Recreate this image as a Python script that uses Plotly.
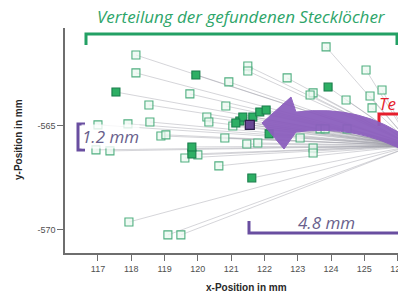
import plotly.graph_objects as go

# ---- data ----
open_x = [118.14, 118.14, 118.53, 118.56, 117.00, 117.90, 118.89, 119.04, 116.94, 117.36,
          119.61, 117.93, 119.10, 119.49, 119.76, 120.93, 121.50, 121.50, 122.68, 123.85,
          125.05, 123.46, 123.37, 124.45, 125.17, 125.53, 125.23, 120.84, 120.27, 120.33,
          121.05, 120.81, 121.47, 121.80, 123.07, 123.67, 123.82, 124.48, 123.46, 123.46,
          120.63, 120.00]
open_y = [-561.59, -562.45, -563.99, -564.81, -564.95, -564.90, -565.48, -565.43, -566.15, -566.20,
          -566.54, -569.62, -570.24, -570.24, -563.46, -562.88, -562.12, -562.36, -562.69, -561.20,
          -562.31, -563.41, -563.51, -563.75, -563.56, -563.27, -564.13, -564.04, -564.57, -564.81,
          -565.00, -565.58, -565.87, -565.82, -565.58, -565.14, -565.14, -565.14, -566.06, -566.30,
          -566.92, -566.39]
filled_x = [117.54, 119.94, 123.91, 122.14, 121.62, 119.82, 119.82, 121.26, 121.65, 121.86,
            122.05, 121.35, 121.14]
filled_y = [-563.37, -562.55, -563.13, -565.38, -567.50, -566.35, -566.01, -564.76, -564.57, -564.33,
            -564.23, -564.57, -564.86]
target_x = [121.56]
target_y = [-564.95]
ref_x = 126.45
ref_y = -565.95

x_ticks = [117, 118, 119, 120, 121, 122, 123, 124, 125, 126]
x_tick_labels = ["117", "118", "119", "120", "121", "122", "123", "124", "125", "126"]
y_ticks = [-565, -570]
y_tick_labels = ["-565", "-570"]

x_range = [116.01, 126.01]
y_range = [-571.11, -560.29]

# ---- figure ----
W, H = 398, 294
ML, MR, MT, MB = 65, 0, 28, 41
PW, PH = W - ML - MR, H - MT - MB


def paper(px, py):
    return (px - ML) / PW, (H - MB - py) / PH


def data(px, py):
    x = x_range[0] + (px - ML) / PW * (x_range[1] - x_range[0])
    y = y_range[1] - (py - MT) / PH * (y_range[1] - y_range[0])
    return x, y


all_x = open_x + filled_x + target_x
all_y = open_y + filled_y + target_y
lx, ly = [], []
for xv, yv in zip(all_x, all_y):
    lx += [xv, ref_x, None]
    ly += [yv, ref_y, None]

fig = go.Figure()
fig.add_trace(go.Scatter(x=lx, y=ly, mode="lines",
                         line=dict(color="rgba(150,150,160,0.4)", width=1),
                         hoverinfo="skip", showlegend=False))
fig.add_trace(go.Scatter(x=open_x, y=open_y, mode="markers",
                         marker=dict(symbol="square", size=8,
                                     color="rgba(235,248,240,0.75)",
                                     line=dict(color="rgb(80,175,128)", width=1.1)),
                         showlegend=False))
fig.add_trace(go.Scatter(x=filled_x, y=filled_y, mode="markers",
                         marker=dict(symbol="square", size=8,
                                     color="rgb(45,175,100)",
                                     line=dict(color="rgb(25,125,75)", width=1.1)),
                         showlegend=False))
fig.add_trace(go.Scatter(x=target_x, y=target_y, mode="markers",
                         marker=dict(symbol="square", size=9,
                                     color="rgb(105,72,150)",
                                     line=dict(color="rgb(45,30,75)", width=1.2)),
                         showlegend=False))


def path_px(points, conv, closed=False):
    s = ""
    for i, (px, py) in enumerate(points):
        x, y = conv(px, py)
        s += ("M" if i == 0 else "L") + f"{x:.5f},{y:.5f} "
    return s + ("Z" if closed else "")


shapes = []
# green bracket
shapes.append(dict(type="path", xref="paper", yref="paper",
                   path=path_px([(86, 45), (86, 34), (397, 34), (397, 45)], paper),
                   line=dict(color="rgb(35,160,100)", width=3)))
# red bracket
shapes.append(dict(type="path", xref="paper", yref="paper",
                   path=path_px([(379, 126), (379, 114), (400, 114)], paper),
                   line=dict(color="rgb(230,30,45)", width=3)))
# purple 1.2 mm bracket
shapes.append(dict(type="path", xref="paper", yref="paper",
                   path=path_px([(85, 124), (78, 124), (78, 150), (85, 150)], paper),
                   line=dict(color="rgb(105,78,160)", width=3)))
# purple 4.8 mm bracket
shapes.append(dict(type="path", xref="paper", yref="paper",
                   path=path_px([(249, 221), (249, 233), (400, 233)], paper),
                   line=dict(color="rgb(105,78,160)", width=3)))

# curved arrow (data coords so it is clipped at the plot edge)
tip = data(262, 123)
ub = data(291, 97)
nu = data(296, 112)
c1 = data(362, 104)
e1 = data(410, 140)
e2 = data(410, 154)
c2 = data(357, 124)
nl = data(296, 132)
lb = data(284, 149)
arrow = (f"M{tip[0]},{tip[1]} L{ub[0]},{ub[1]} L{nu[0]},{nu[1]} "
         f"Q{c1[0]},{c1[1]} {e1[0]},{e1[1]} L{e2[0]},{e2[1]} "
         f"Q{c2[0]},{c2[1]} {nl[0]},{nl[1]} L{lb[0]},{lb[1]} Z")
shapes.append(dict(type="path", xref="x", yref="y", path=arrow,
                   fillcolor="rgb(140,95,190)", line=dict(color="rgb(140,95,190)", width=1),
                   opacity=0.95, layer="above"))

ann = []


def add_text(px, py, text, font, **kw):
    tx, ty = paper(px, py)
    d = dict(x=tx, y=ty, xref="paper", yref="paper", showarrow=False,
             xanchor="center", yanchor="middle", text=text, font=font)
    d.update(kw)
    ann.append(d)


add_text(241, 17, "<i>Verteilung der gefundenen Stecklöcher</i>",
         dict(family="Open Sans", size=17, color="rgb(45,165,105)"))
add_text(377, 103, "<i>Te</i>",
         dict(family="Open Sans", size=17, color="rgb(230,30,45)"), xanchor="left")
add_text(110, 136, "<i>1.2 mm</i>",
         dict(family="Open Sans", size=17, color="rgb(105,95,140)"),
         bgcolor="rgba(255,255,255,0.8)", borderpad=0)
add_text(326, 222, "<i>4.8 mm</i>",
         dict(family="Open Sans", size=17, color="rgb(105,95,140)"))
add_text(246, 287, "<b>x-Position in mm</b>",
         dict(family="Liberation Sans", size=10, color="rgb(40,40,40)"))
add_text(18, 139, "<b>y-Position in mm</b>",
         dict(family="Liberation Sans", size=10, color="rgb(40,40,40)"), textangle=-90)

axis_common = dict(showgrid=False, zeroline=False, showline=True, automargin=False,
                   linecolor="rgb(110,110,110)", linewidth=1.5,
                   ticks="outside", ticklen=6, tickwidth=1, tickcolor="rgb(110,110,110)",
                   ticklabeloverflow="allow",
                   tickfont=dict(family="Liberation Sans", size=9, color="rgb(80,80,80)"))

fig.update_layout(
    width=W, height=H,
    margin=dict(l=ML, r=MR, t=MT, b=MB, autoexpand=False),
    paper_bgcolor="white", plot_bgcolor="white",
    xaxis=dict(range=x_range, tickvals=x_ticks, ticktext=x_tick_labels, **axis_common),
    yaxis=dict(range=y_range, tickvals=y_ticks, ticktext=y_tick_labels, **axis_common),
    shapes=shapes, annotations=ann, showlegend=False,
)

fig.write_html("out.html", config={"displayModeBar": False},
               post_script="document.body.style.margin='0';document.body.style.overflow='hidden';")
